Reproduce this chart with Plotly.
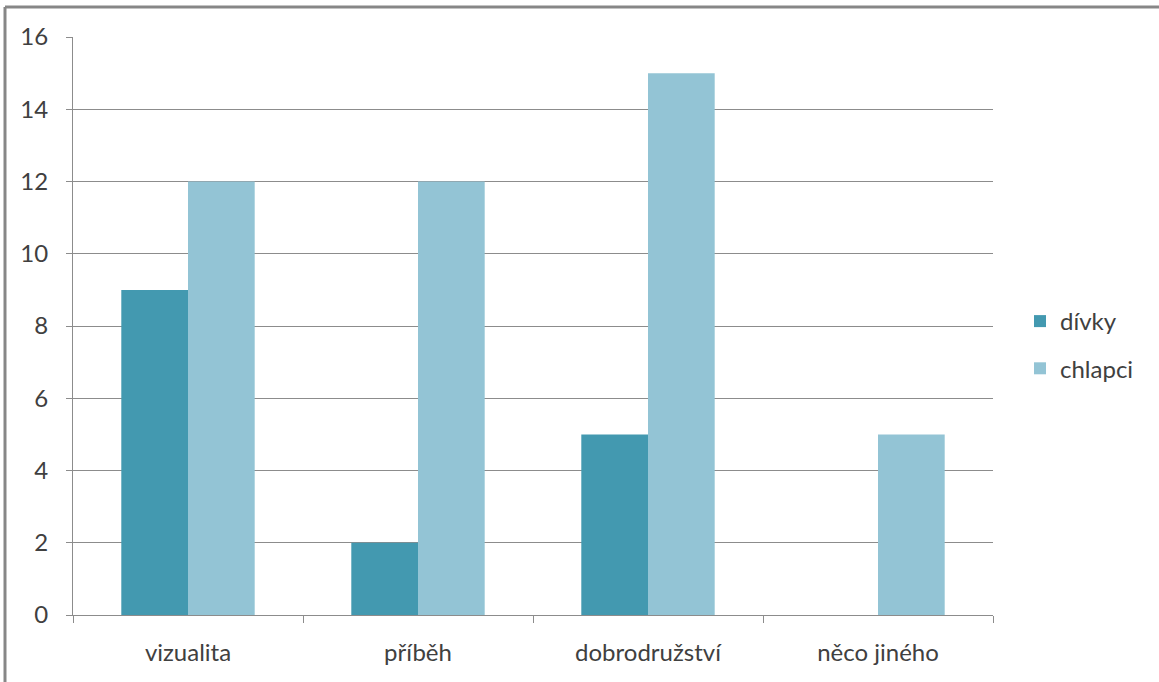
import plotly.graph_objects as go

# Survey answers by category
categories = ["vizualita", "příběh", "dobrodružství", "něco jiného"]
divky = [9, 2, 5, 0]
chlapci = [12, 12, 15, 5]
y_ticks = [0, 2, 4, 6, 8, 10, 12, 14, 16]

W, H = 1159, 682
L, R, T, B = 73, 993, 37, 615  # plot area in pixels

font_family = "Lato, 'Open Sans', sans-serif"
text_color = "#404040"
grid_color = "#8c8c8c"

fig = go.Figure()
fig.add_trace(go.Bar(name="dívky", x=categories, y=divky,
                     marker=dict(color="#4399b0", line=dict(width=0)),
                     legendgroup="a"))
fig.add_trace(go.Bar(name="chlapci", x=categories, y=chlapci,
                     marker=dict(color="#93c4d5", line=dict(width=0)),
                     legendgroup="b"))

def px_x(px):
    return (px - L) / (R - L)

def px_y(py):
    return (B - py) / (B - T)

# outer frame (top and left edges)
fig.add_shape(type="line", xref="paper", yref="paper",
              x0=px_x(5), x1=px_x(1200), y0=px_y(7), y1=px_y(7),
              line=dict(color="#878787", width=3))
fig.add_shape(type="line", xref="paper", yref="paper",
              x0=px_x(5), x1=px_x(5), y0=px_y(7), y1=px_y(720),
              line=dict(color="#878787", width=3))

fig.update_layout(
    width=W, height=H,
    margin=dict(l=L, r=W - R, t=T, b=H - B, pad=0),
    paper_bgcolor="white", plot_bgcolor="white",
    barmode="group", bargap=0.42, bargroupgap=0,
    font=dict(family=font_family, size=24, color=text_color),
    legend=dict(x=px_x(1020), y=px_y(299), xanchor="left", yanchor="top",
                traceorder="grouped", tracegroupgap=13,
                font=dict(size=24, color=text_color),
                itemwidth=30),
    xaxis=dict(showgrid=False, showline=True, linecolor=grid_color, linewidth=1,
               ticks="outside", tickson="boundaries", ticklen=7,
               tickcolor=grid_color, tickwidth=1, ticklabelstandoff=16),
    yaxis=dict(range=[0, 16], tickvals=y_ticks, showgrid=True,
               gridcolor=grid_color, gridwidth=1, showline=True,
               linecolor=grid_color, linewidth=1, ticks="outside",
               ticklen=6, tickcolor=grid_color, ticklabelstandoff=13,
               zeroline=False),
)

fig.write_html("out.html")
